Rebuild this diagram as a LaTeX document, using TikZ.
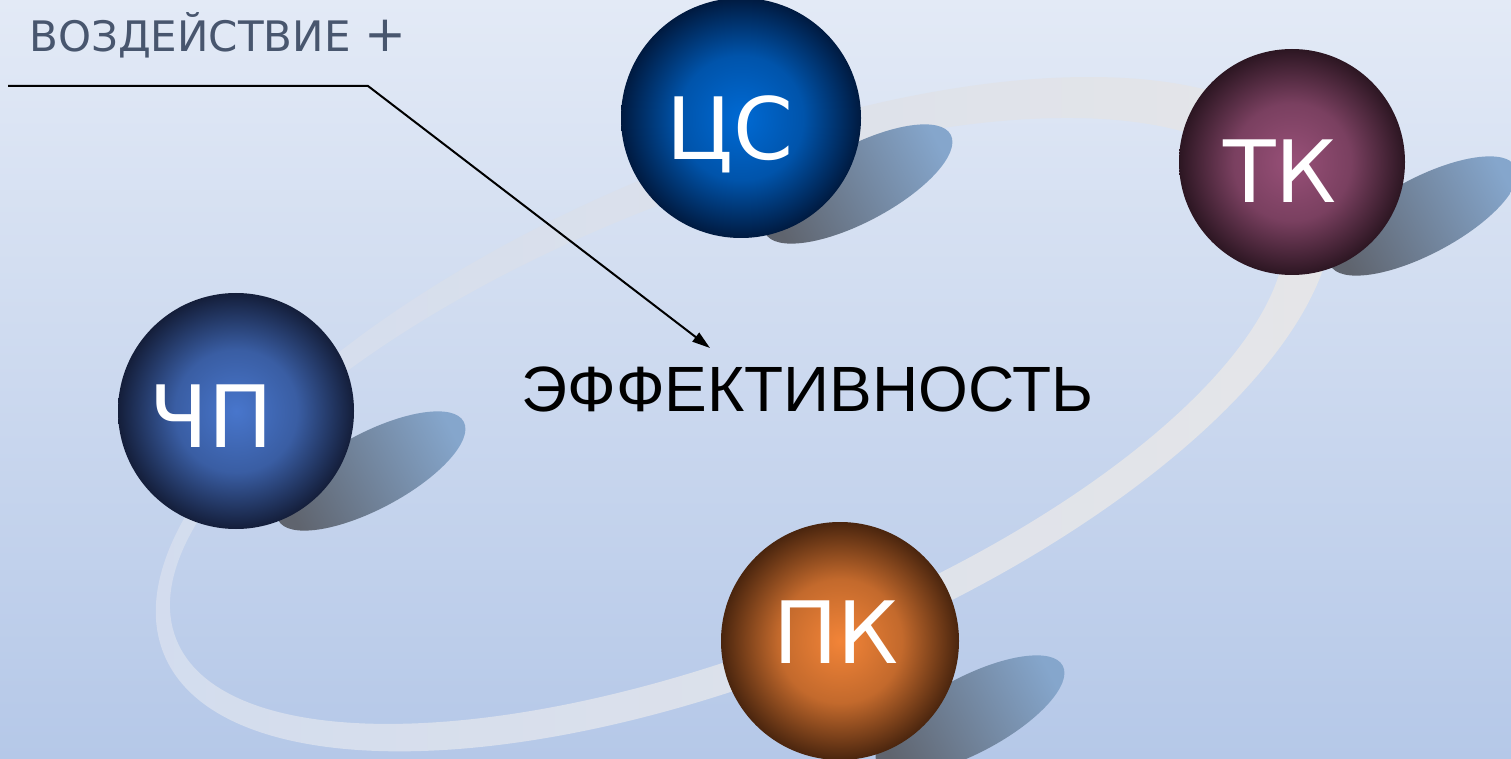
\documentclass[tikz,border=0pt]{standalone}
\usepackage{fontspec}
\setmainfont{DejaVu Sans}
\newfontfamily\efffont{Liberation Sans}
\usepackage{tikz}
\usetikzlibrary{calc}
\usetikzlibrary{arrows.meta}

\definecolor{bgtop}{RGB}{227,234,246}
\definecolor{bgbot}{RGB}{181,200,232}
\definecolor{ringL}{RGB}{210,220,238}
\definecolor{ringR}{RGB}{230,230,232}
\definecolor{shadowD}{RGB}{95,100,110}
\definecolor{shadowL}{RGB}{133,166,204}
\definecolor{vozgray}{RGB}{72,86,110}
\definecolor{csin}{RGB}{0,106,212}
\definecolor{csout}{RGB}{0,26,64}
\definecolor{tkin}{RGB}{152,80,120}
\definecolor{tkout}{RGB}{44,22,34}
\definecolor{chpin}{RGB}{72,118,204}
\definecolor{chpout}{RGB}{20,30,58}
\definecolor{pkin}{RGB}{242,132,56}
\definecolor{pkout}{RGB}{74,37,14}
% balls: bright middle, dark rim
\pgfdeclareradialshading{csball}{\pgfpoint{0bp}{0bp}}{color(0bp)=(csin); color(13bp)=(csin!72!csout); color(25bp)=(csout); color(50bp)=(csout)}
\pgfdeclareradialshading{tkball}{\pgfpoint{0bp}{0bp}}{color(0bp)=(tkin); color(13bp)=(tkin!72!tkout); color(25bp)=(tkout); color(50bp)=(tkout)}
\pgfdeclareradialshading{chpball}{\pgfpoint{0bp}{0bp}}{color(0bp)=(chpin); color(13bp)=(chpin!72!chpout); color(25bp)=(chpout); color(50bp)=(chpout)}
\pgfdeclareradialshading{pkball}{\pgfpoint{0bp}{0bp}}{color(0bp)=(pkin); color(13bp)=(pkin!72!pkout); color(25bp)=(pkout); color(50bp)=(pkout)}

\begin{document}
\begin{tikzpicture}[x=0.5pt, y=-0.5pt,
    ball/.style={circle, inner sep=0pt},
    shadowfill/.style={left color=shadowD, right color=shadowL, shading angle=118},
    lbl/.style={text=white, font=\fontsize{43}{50}\selectfont},
    ring/.style={even odd rule, left color=ringL, right color=ringR},
    pointer/.style={line width=1pt, -{Triangle[length=9pt, width=5.5pt]}}]
    \useasboundingbox (0,0) rectangle (1511,759);
    \shade[top color=bgtop, bottom color=bgbot] (0,0) rectangle (1511,759);
    % ring behind the balls
    \shade[ring, rotate around={22.5:(735,418)}] (745,418) ellipse [x radius=628, y radius=256]
        [rotate around={-0.9:(735,418)}] (727,418) ellipse [x radius=593, y radius=226];
    \foreach \n/\x/\y/\r/\sx/\sy/\lx/\ly/\txt in {
        cs/741/118/120/117/66/730/160/ЦС,
        tk/1292/162/113/131/54/1280/203/ТК,
        chp/236/411/118/135/60/211/447/ЧП,
        pk/840/641/119/130/74/836/663/ПК}
    {
        \shade[shadowfill, rotate around={28:(\x+\sx,\y+\sy)}] (\x+\sx,\y+\sy) ellipse [x radius=105, y radius=38];
        \node[ball, minimum size=\r pt, shading=\n ball] (\n) at (\x,\y) {};
        \node[lbl, anchor=base] (t\n) at (\lx,\ly) {\txt};
    }
    \node[anchor=base west, inner sep=0pt, text=vozgray, font=\fontsize{21}{25}\selectfont] (voz) at (29,52)
        {ВОЗДЕЙСТВИЕ\hspace{7pt}{\fontsize{25}{25}\selectfont +}};
    \node[anchor=base west, inner sep=0pt, font=\efffont\fontsize{32}{38}\selectfont] (eff) at (521,412) {ЭФФЕКТИВНОСТЬ};
    \coordinate (vozA) at (8,86);
    \coordinate (vozB) at (368,86);
    \coordinate (effTip) at (710,348);
    \draw[pointer] (vozA) -- (vozB) -- (effTip);
\end{tikzpicture}
\end{document}
